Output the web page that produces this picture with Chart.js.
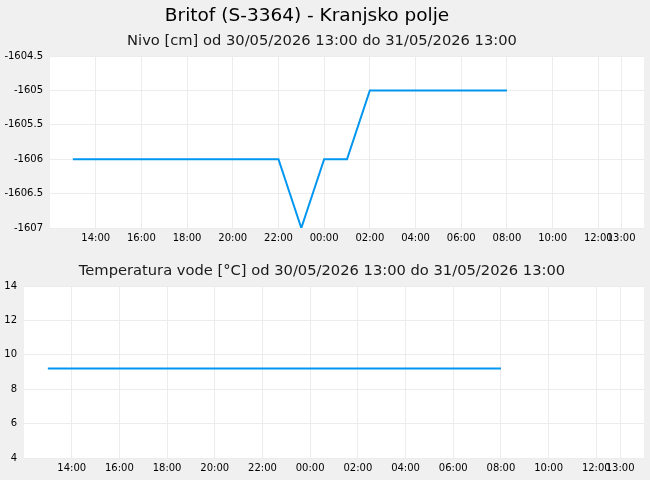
<!DOCTYPE html>
<html lang="sl">
<head>
    <meta charset="UTF-8">
    <title>Britof (S-3364) - Kranjsko polje</title>
    <style>
        body {
            margin: 0;
            padding: 0;
            background-color: #f0f0f0;
            font-family: 'DejaVu Sans', sans-serif;
        }
        .box {
            position: relative;
            width: 650px;
        }
        #nivoBox { height: 250px; }
        #tempBox { height: 230px; }
    </style>
</head>
<body>
    <div class="box" id="nivoBox"><canvas id="nivoChart"></canvas></div>
    <div class="box" id="tempBox"><canvas id="tempChart"></canvas></div>

    <script src="https://cdn.jsdelivr.net/npm/chart.js"></script>
    <script>
        // measurement times (30/05 13:00 .. 31/05 08:00, hourly)
        const times = ['13:00', '14:00', '15:00', '16:00', '17:00', '18:00', '19:00', '20:00', '21:00', '22:00',
                       '23:00', '00:00', '01:00', '02:00', '03:00', '04:00', '05:00', '06:00', '07:00', '08:00'];
        const nivoValues = [-1606, -1606, -1606, -1606, -1606, -1606, -1606, -1606, -1606, -1606,
                            -1607, -1606, -1606, -1605, -1605, -1605, -1605, -1605, -1605, -1605];
        const tempValues = [9.2, 9.2, 9.2, 9.2, 9.2, 9.2, 9.2, 9.2, 9.2, 9.2,
                            9.2, 9.2, 9.2, 9.2, 9.2, 9.2, 9.2, 9.2, 9.2, 9.2];
        const xTickLabels = ['14:00', '16:00', '18:00', '20:00', '22:00', '00:00', '02:00',
                             '04:00', '06:00', '08:00', '10:00', '12:00', '13:00'];
        const nivoTicks = [-1604.5, -1605, -1605.5, -1606, -1606.5, -1607];
        const tempTicks = [14, 12, 10, 8, 6, 4];

        // hours counted from 30/05 00:00 (day wraps when the hour goes back)
        function toHours(list) {
            let day = 0, prev = -1;
            return list.map(t => {
                let h = parseInt(t, 10) + day;
                if (h < prev) { day += 24; h += 24; }
                prev = h;
                return h;
            });
        }
        const xHours = toHours(times);
        const tickHours = toHours(xTickLabels);
        const X_MIN = 12, X_MAX = 38;

        const lineColor = '#0096f0';
        const gridColor = '#ececec';
        const font = 'DejaVu Sans';

        const plotBg = {
            id: 'plotBg',
            afterLayout(chart) {
                // main title sits a bit left of centre in the original
                const t = chart.titleBlock;
                if (t) { t.left -= 15; t.right -= 15; }
            },
            beforeDraw(chart) {
                const a = chart.chartArea, c = chart.ctx;
                c.save();
                c.fillStyle = '#ffffff';
                c.fillRect(a.left, a.top, a.right - a.left, a.bottom - a.top);
                c.restore();
            }
        };

        function makeChart(id, values, yTicks, yWidth, titleText, subText, subPad) {
            const points = values.map((v, i) => ({ x: xHours[i], y: v }));
            return new Chart(document.getElementById(id), {
                type: 'line',
                data: {
                    datasets: [{
                        data: points,
                        borderColor: lineColor,
                        borderWidth: 2,
                        pointRadius: 0,
                        tension: 0,
                        fill: false
                    }]
                },
                options: {
                    responsive: true,
                    maintainAspectRatio: false,
                    animation: false,
                    events: [],
                    layout: { padding: { right: 6, left: 0, top: 0, bottom: 0 } },
                    plugins: {
                        legend: { display: false },
                        tooltip: { enabled: false },
                        title: {
                            display: !!titleText,
                            text: titleText,
                            color: '#000',
                            font: { family: font, size: 18.5, weight: 'normal' },
                            padding: { top: 5, bottom: 2 }
                        },
                        subtitle: {
                            display: true,
                            text: subText,
                            color: '#1a1a1a',
                            font: { family: font, size: 14.7, weight: 'normal' },
                            padding: subPad
                        }
                    },
                    scales: {
                        x: {
                            type: 'linear',
                            min: X_MIN,
                            max: X_MAX,
                            afterBuildTicks: s => { s.ticks = tickHours.map(v => ({ value: v })); },
                            afterFit: s => { s.height = 22; },
                            ticks: {
                                autoSkip: false,
                                maxRotation: 0,
                                padding: 4,
                                color: '#000',
                                font: { family: font, size: 10 },
                                callback: (v, i) => xTickLabels[i]
                            },
                            grid: { color: gridColor, drawTicks: false },
                            border: { display: false }
                        },
                        y: {
                            type: 'linear',
                            min: yTicks[yTicks.length - 1],
                            max: yTicks[0],
                            afterBuildTicks: s => { s.ticks = yTicks.map(v => ({ value: v })); },
                            afterFit: s => { s.width = yWidth; },
                            ticks: {
                                padding: 7,
                                color: '#000',
                                font: { family: font, size: 10 },
                                callback: v => String(v)
                            },
                            grid: { color: gridColor, drawTicks: false },
                            border: { display: false }
                        }
                    }
                },
                plugins: [plotBg]
            });
        }

        makeChart('nivoChart', nivoValues, nivoTicks, 50,
            'Britof (S-3364) - Kranjsko polje',
            'Nivo [cm] od 30/05/2026 13:00 do 31/05/2026 13:00',
            { top: 3.6, bottom: 5.6 });

        makeChart('tempChart', tempValues, tempTicks, 24,
            '',
            'Temperatura vode [°C] od 30/05/2026 13:00 do 31/05/2026 13:00',
            { top: 12, bottom: 6.4 });
    </script>
</body>
</html>
